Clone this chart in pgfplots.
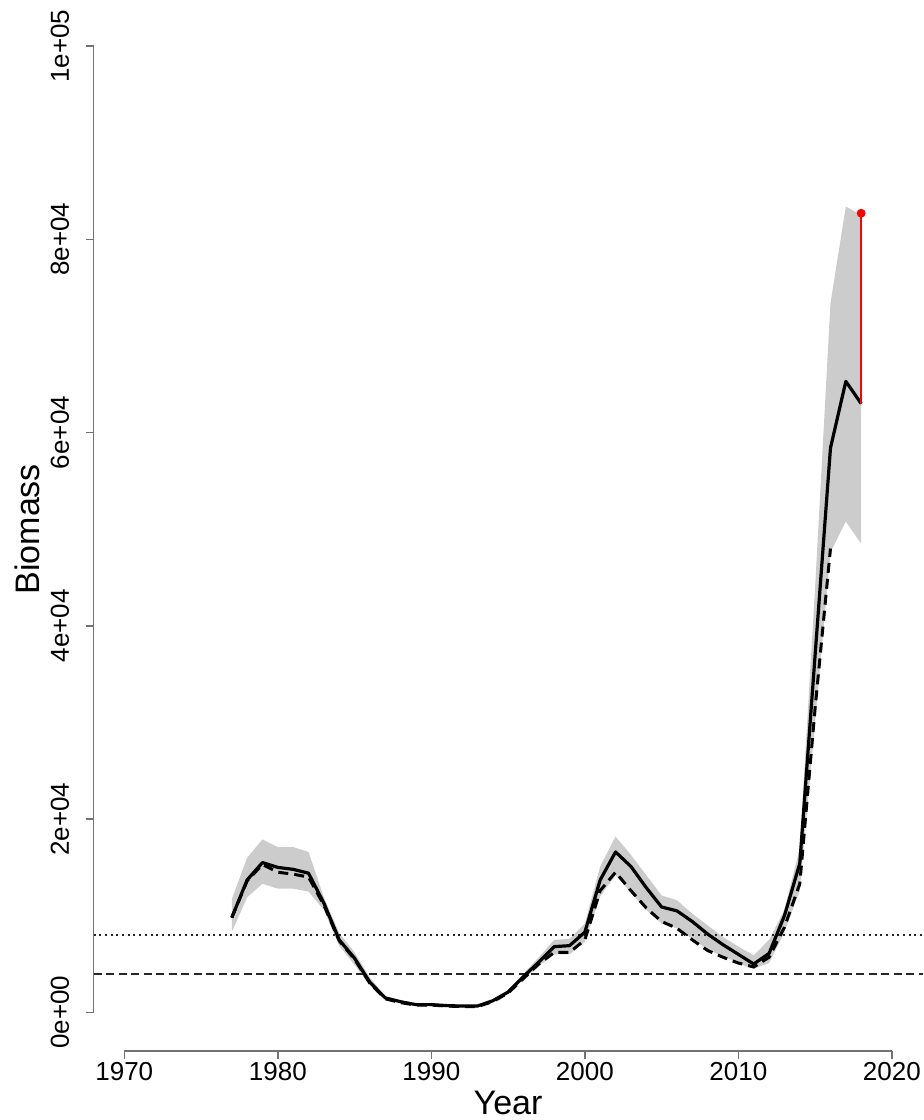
\documentclass[border=0pt]{standalone}
\usepackage{fontspec}
\setmainfont{Liberation Sans}
\usepackage{pgfplots}
\pgfplotsset{compat=1.18}
\usepgfplotslibrary{fillbetween}
\usepackage{pgfplotstable}

% estimated biomass with confidence band
\pgfplotstableread{
year mid   lo    hi
1977 9800  8300  11700
1978 13700 11900 16000
1979 15500 13300 17900
1980 15000 12800 17100
1981 14800 12800 17100
1982 14400 12500 16600
1983 11300 10600 11900
1984 7500  6900  8200
1985 5600  4900  6200
1986 3100  2800  3600
1987 1500  1400  1650
1988 1100  1000  1200
1989 800   750   880
1990 800   750   880
1991 700   650   780
1992 650   600   720
1993 650   600   720
1994 1200  1100  1300
1995 2100  2000  2300
1996 3700  3400  4000
1997 5200  4800  5700
1998 6800  6000  7500
1999 6900  6000  7600
2000 8300  7300  9200
2001 13700 12000 15100
2002 16600 14200 18200
2003 15100 12400 16300
2004 12900 10600 14200
2005 10900 9200  12100
2006 10500 8700  11600
2007 9400  7600  10200
2008 8100  6500  9000
2009 7000  5800  7800
2010 6000  5100  6800
2011 5000  4500  5900
2012 6100  5100  7500
2013 10000 8300  10600
2014 15400 12600 17000
2015 37000 30000 44000
2016 58400 47600 73400
2017 65300 50800 83400
2018 63000 48500 82500
}\biomass

% alternative run (dashed)
\pgfplotstableread{
year val
1977 9800
1978 13600
1979 15300
1980 14500
1981 14300
1982 14000
1983 11100
1984 7400
1985 5500
1986 3000
1987 1400
1988 1000
1989 750
1990 750
1991 650
1992 600
1993 600
1994 1100
1995 2000
1996 3500
1997 5000
1998 6200
1999 6200
2000 7500
2001 12600
2002 14500
2003 12600
2004 10800
2005 9400
2006 8700
2007 7500
2008 6400
2009 5700
2010 5100
2011 4700
2012 5700
2013 8800
2014 13300
2015 31500
2016 48000
}\biomassalt

\definecolor{band}{RGB}{204,204,204}
\definecolor{axisgray}{RGB}{115,115,115}

\begin{document}
\begin{tikzpicture}
\begin{axis}[
  name=ax,
  scale only axis,
  width=414.5pt, height=521.8pt,
  xmin=1968, xmax=2022, ymin=-4000, ymax=104000,
  clip=false,
  axis line style={draw=none},
  xtick={1970,1980,...,2020},
  xticklabels={1970,1980,1990,2000,2010,2020},
  ytick={0,20000,...,100000},
  yticklabels={0e+00,2e+04,4e+04,6e+04,8e+04,1e+05},
  scaled ticks=false,
  tick pos=left,
  tick align=outside,
  major tick length=4pt,
  tick style={color=axisgray, line width=0.75pt},
  xticklabel style={font=\fontsize{13}{15}\selectfont, anchor=north, inner sep=0pt, yshift=-1.5pt},
  yticklabel style={font=\fontsize{13}{15}\selectfont, xshift=-8pt, rotate=90, anchor=south, inner sep=0pt},
  xlabel={Year}, ylabel={Biomass},
  every axis x label/.style={at={(axis description cs:0.5,0)}, anchor=center, yshift=-26pt, font=\fontsize{17}{20}\selectfont},
  every axis y label/.style={at={(axis description cs:0,0.5)}, xshift=-33pt, rotate=90, anchor=center, font=\fontsize{17}{20}\selectfont},
]
  % axis lines, R style
  \addplot[axisgray, line width=0.75pt] coordinates {(1968,0) (1968,100000)};
  \addplot[axisgray, line width=0.75pt] coordinates {(1970,-4000) (2020,-4000)};

  % confidence band
  \addplot[name path=hi, draw=none] table[x=year, y=hi] {\biomass};
  \addplot[name path=lo, draw=none] table[x=year, y=lo] {\biomass};
  \addplot[band, draw=none] fill between[of=hi and lo];

  % reference levels
  \addplot[black!85, line width=1pt, dash pattern=on 1pt off 1.85pt] coordinates {(1968,8000) (2022,8000)};
  \addplot[black!85, line width=1pt, dash pattern=on 4pt off 2.25pt] coordinates {(1968,4000) (2022,4000)};

  % series
  \addplot[black, line width=1.5pt, dash pattern=on 5pt off 3pt] table[x=year, y=val] {\biomassalt};
  \addplot[black, line width=1.6pt, line join=round] table[x=year, y=mid] {\biomass};

  % last year projection
  \addplot[red, line width=1pt] coordinates {(2018,63000) (2018,82700)};
  \addplot[red, only marks, mark=*, mark size=2pt] coordinates {(2018,82700)};
\end{axis}
\pgfresetboundingbox
\path[use as bounding box] ([xshift=-46.8pt, yshift=-34.5pt]ax.south west) rectangle ++(462pt,560pt);
\end{tikzpicture}
\end{document}
